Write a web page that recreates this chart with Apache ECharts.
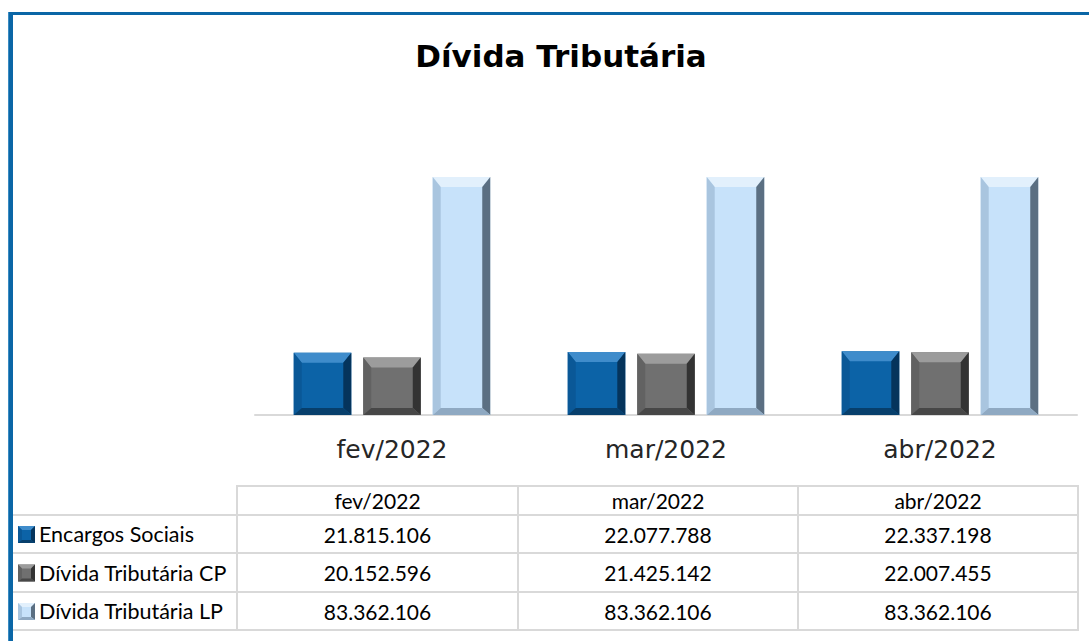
<!DOCTYPE html>
<html>
<head>
<meta charset="utf-8">
<style>
  html, body { margin: 0; padding: 0; background: #fff; }
  #chart { width: 1089px; height: 641px; }
</style>
</head>
<body>
<div id="chart"></div>
<script src="https://cdn.jsdelivr.net/npm/echarts@6/dist/echarts.min.js"></script>
<script>
// ---- dados ----
var months = ['fev/2022', 'mar/2022', 'abr/2022'];
var seriesNames = ['Encargos Sociais', 'Dívida Tributária CP', 'Dívida Tributária LP'];
var encargosSociais = [21815106, 22077788, 22337198];
var dividaCP = [20152596, 21425142, 22007455];
var dividaLP = [83362106, 83362106, 83362106];
var allValues = [encargosSociais, dividaCP, dividaLP];

// cores do "bisel" de cada serie
var bevels = [
  { face: '#0c63a7', top: '#3f8ccb', left: '#0a5897', right: '#05345c', bottom: '#073f6c' },
  { face: '#707070', top: '#9c9c9c', left: '#626262', right: '#333333', bottom: '#474747' },
  { face: '#c7e2fa', top: '#e2f0fc', left: '#a9c5df', right: '#5b6f82', bottom: '#8fa9c2' }
];
var offsets = [-0.2536, 0, 0.2536];   // em fracao da largura da categoria
var barFrac = 0.21;

function fmt(n) {
  return String(n).replace(/\B(?=(\d{3})+(?!\d))/g, '.');
}

function bevelShapes(x, y, w, h, s, t, bt, c) {
  // s = lado, t = topo, bt = base
  return [
    { type: 'rect', shape: { x: x, y: y, width: w, height: h }, style: { fill: c.face } },
    { type: 'polygon', shape: { points: [[x, y], [x + w, y], [x + w - s, y + t], [x + s, y + t]] }, style: { fill: c.top } },
    { type: 'polygon', shape: { points: [[x, y], [x + s, y + t], [x + s, y + h - bt], [x, y + h]] }, style: { fill: c.left } },
    { type: 'polygon', shape: { points: [[x + w, y], [x + w, y + h], [x + w - s, y + h - bt], [x + w - s, y + t]] }, style: { fill: c.right } },
    { type: 'polygon', shape: { points: [[x, y + h], [x + s, y + h - bt], [x + w - s, y + h - bt], [x + w, y + h]] }, style: { fill: c.bottom } }
  ];
}

function makeRender(idx) {
  return function (params, api) {
    var cat = api.value(0);
    var topPt = api.coord([cat, api.value(1)]);
    var basePt = api.coord([cat, 0]);
    var band = api.size([1, 0])[0];
    var w = band * barFrac;
    var cx = topPt[0] + offsets[idx] * band;
    var h = basePt[1] - topPt[1];
    return {
      type: 'group',
      children: bevelShapes(cx - w / 2, topPt[1], w, h, 8, 10, 7, bevels[idx])
    };
  };
}

var series = [];
for (var i = 0; i < seriesNames.length; i++) {
  var d = [];
  for (var j = 0; j < months.length; j++) d.push([j, allValues[i][j]]);
  series.push({
    name: seriesNames[i],
    type: 'custom',
    renderItem: makeRender(i),
    encode: { x: 0, y: 1 },
    data: d,
    silent: true
  });
}

// ---- tabela ----
var colX = [13, 237, 518, 798, 1078];
var headTop = 486, rowTops = [515, 553, 592], tableBottom = 630;
var gridColor = '#d9d9d9';
var tableFont = 'Lato, sans-serif';
var graphics = [];

// moldura azul
graphics.push({ type: 'rect', shape: { x: 8, y: 12, width: 1081, height: 3 }, style: { fill: '#0a66a6' } });
graphics.push({ type: 'rect', shape: { x: 8, y: 12, width: 5, height: 629 }, style: { fill: '#0a66a6' } });
graphics.push({ type: 'rect', shape: { x: 8, y: 12, width: 1, height: 629 }, style: { fill: '#3b8cc2' } });

// titulo
graphics.push({
  type: 'text', x: 561, y: 56,
  style: { text: 'Dívida Tributária', fill: '#000', font: 'bold 31px "DejaVu Sans"', textAlign: 'center', textVerticalAlign: 'middle' }
});

// linhas horizontais
graphics.push({ type: 'rect', shape: { x: colX[1], y: headTop - 1, width: colX[4] - colX[1], height: 2 }, style: { fill: gridColor } });
rowTops.concat([tableBottom]).forEach(function (yy) {
  graphics.push({ type: 'rect', shape: { x: colX[0], y: yy - 1, width: colX[4] - colX[0], height: 2 }, style: { fill: gridColor } });
});
// linhas verticais
for (var k = 1; k < colX.length; k++) {
  graphics.push({ type: 'rect', shape: { x: colX[k] - 1, y: headTop - 1, width: 2, height: tableBottom - headTop + 2 }, style: { fill: gridColor } });
}
// cabecalho
months.forEach(function (m, j) {
  graphics.push({
    type: 'text', x: (colX[j + 1] + colX[j + 2]) / 2, y: (headTop + rowTops[0]) / 2,
    style: { text: m, fill: '#000', font: '21px ' + tableFont, textAlign: 'center', textVerticalAlign: 'middle' }
  });
});
// linhas de dados
var rowBounds = rowTops.concat([tableBottom]);
seriesNames.forEach(function (name, i) {
  var yMid = (rowBounds[i] + rowBounds[i + 1]) / 2;
  graphics.push({
    type: 'group',
    children: bevelShapes(18, yMid - 8, 17, 17, 4, 4, 3, bevels[i])
  });
  graphics.push({
    type: 'text', x: 39, y: yMid,
    style: { text: name, fill: '#000', font: '21.5px ' + tableFont, textAlign: 'left', textVerticalAlign: 'middle' }
  });
  allValues[i].forEach(function (v, j) {
    graphics.push({
      type: 'text', x: (colX[j + 1] + colX[j + 2]) / 2, y: yMid,
      style: { text: fmt(v), fill: '#000', font: '21px ' + tableFont, textAlign: 'center', textVerticalAlign: 'middle' }
    });
  });
});

var chart = echarts.init(document.getElementById('chart'), null, { renderer: 'svg' });
chart.setOption({
  backgroundColor: '#fff',
  animation: false,
  grid: { left: 255, right: 12, top: 129.5, bottom: 226, containLabel: false },
  xAxis: {
    type: 'category',
    data: months,
    axisLine: { show: true, lineStyle: { color: '#d9d9d9', width: 2 } },
    axisTick: { show: false },
    axisLabel: { margin: 22, color: '#262626', fontFamily: 'DejaVu Sans', fontSize: 25 }
  },
  yAxis: {
    type: 'value',
    min: 0,
    max: 100000000,
    show: false
  },
  series: series,
  graphic: graphics
});
</script>
</body>
</html>
